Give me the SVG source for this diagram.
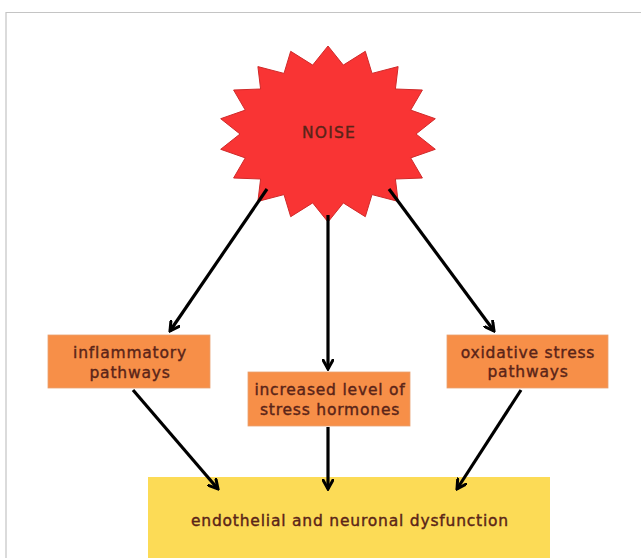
<svg xmlns="http://www.w3.org/2000/svg" width="641" height="558" viewBox="0 0 641 558">
  <defs>
    <style>
      .lbl { font-family: "DejaVu Sans", "Liberation Sans", sans-serif; font-size: 15.5px; letter-spacing: 0.8px; font-weight: normal; fill: #5a2418; text-anchor: middle; stroke: #5a2418; stroke-width: 0.4; }
      .box { fill: #f78f48; stroke: #e8a070; stroke-width: 0.8; }
      .conn { stroke: #000; stroke-width: 3.2; fill: none; marker-end: url(#chev); }
    </style>
    <marker id="chev" viewBox="0 0 12 12" refX="10" refY="6" markerWidth="12" markerHeight="12" markerUnits="userSpaceOnUse" orient="auto">
      <path d="M1,1 L10,6 L1,11" fill="none" stroke="#000" stroke-width="3" stroke-linecap="round" stroke-linejoin="miter"/>
    </marker>
  </defs>
  <rect x="0" y="0" width="641" height="558" fill="#fff"/>
  <path d="M6,558 L6,12.5 L641,12.5" fill="none" stroke="#c4c4c4" stroke-width="1.2"/>

  <g id="noise">
    <polygon fill="#f93434" stroke="#d02a2a" stroke-width="1" points="328,46 343.3,65.1 365.3,51.3 372,73.4 398.1,66.6 395.4,89 422.4,90 410.7,110.1 435.3,118.7 416,134 435.3,149.3 410.7,157.9 422.4,178 395.4,179 398.1,201.4 372,194.6 365.3,216.7 343.3,202.9 328,222 312.7,202.9 290.7,216.7 284,194.6 257.9,201.4 260.6,179 233.6,178 245.3,157.9 220.7,149.3 240,134 220.7,118.7 245.3,110.1 233.6,90 260.6,89 257.9,66.6 284,73.4 290.7,51.3 312.7,65.1"/>
    <text class="lbl" x="329" y="138" font-size="14" fill="#5a1a1a" style="letter-spacing:1.2px">NOISE</text>
  </g>

  <g id="inflammatory">
    <rect class="box" x="48" y="335" width="162" height="53"/>
    <text class="lbl" x="130" y="358">inflammatory</text>
    <text class="lbl" x="130" y="378">pathways</text>
  </g>

  <g id="hormones">
    <rect class="box" x="248" y="372" width="162" height="54"/>
    <text class="lbl" x="330" y="395">increased level of</text>
    <text class="lbl" x="330" y="415">stress hormones</text>
  </g>

  <g id="oxidative">
    <rect class="box" x="447" y="335" width="161" height="53"/>
    <text class="lbl" x="528" y="358">oxidative stress</text>
    <text class="lbl" x="528" y="377">pathways</text>
  </g>

  <g id="dysfunction">
    <rect x="148" y="477" width="402" height="81" fill="#fcdb56"/>
    <text class="lbl" x="350" y="526" fill="#4a3410" stroke="#4a3410">endothelial and neuronal dysfunction</text>
  </g>

  <g id="connectors">
    <line class="conn" x1="267" y1="189" x2="170" y2="331"/>
    <line class="conn" x1="328" y1="215" x2="328" y2="369"/>
    <line class="conn" x1="389" y1="189" x2="494" y2="331"/>
    <line class="conn" x1="133" y1="390" x2="218" y2="489"/>
    <line class="conn" x1="328" y1="427" x2="328" y2="489"/>
    <line class="conn" x1="521" y1="390" x2="457" y2="489"/>
  </g>
</svg>
